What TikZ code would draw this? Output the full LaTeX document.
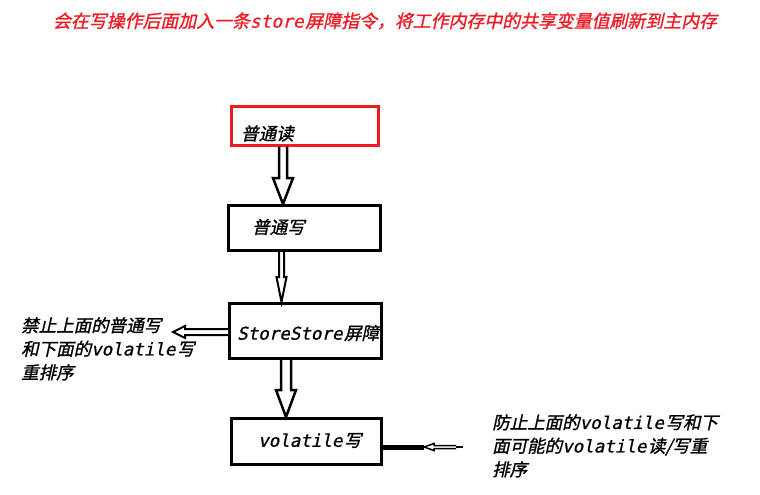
\documentclass[tikz,border=0pt]{standalone}
\usepackage{fontspec}
\newfontfamily\cjk[FakeSlant=0.22,FakeBold=1.2]{Noto Sans CJK SC}
\newfontfamily\latmono[FakeSlant=0.22,FakeBold=0.8]{DejaVu Sans Mono}
\newcommand\lat[1]{{\latmono #1}\kern1.5pt}
\usetikzlibrary{calc}
\definecolor{redline}{RGB}{237,28,36}
\newcommand\downblock[6]{% start, tip, shaft half, head half, head length, width
  \draw[line width=#6] let \p1=(#1), \p2=(#2) in
    (\x1-#3,\y1) -- (\x1-#3,\y2+#5) -- (\x1-#4,\y2+#5) -- (\x1,\y2)
    -- (\x1+#4,\y2+#5) -- (\x1+#3,\y2+#5) -- (\x1+#3,\y1);}
\newcommand\leftblock[6]{% start, tip, shaft half, head half, head length, width
  \draw[line width=#6,fill=white] let \p1=(#1), \p2=(#2) in
    (\x1,\y1+#3) -- (\x2+#5,\y1+#3) -- (\x2+#5,\y1+#4) -- (\x2,\y1)
    -- (\x2+#5,\y1-#4) -- (\x2+#5,\y1-#3) -- (\x1,\y1-#3);}
\begin{document}
\begin{tikzpicture}[x=1pt,y=-1pt,
  box/.style={draw, line width=3pt, inner sep=0pt},
  txt/.style={font=\cjk\fontsize{17.5}{23.5}\selectfont, inner sep=0pt, align=left},
  ttl/.style={font=\cjk\fontsize{17.9}{20}\selectfont, text=redline, inner sep=0pt}]
\useasboundingbox (0,0) rectangle (760,495);
\node[ttl] (title) at (385,21) {会在写操作后面加入一条\lat{store}屏障指令，将工作内存中的共享变量值刷新到主内存};
% boxes
\node[box, draw=redline, minimum width=147pt, minimum height=39pt] (r) at (305,125.5) {};
\node[box, minimum width=152pt, minimum height=45pt] (w) at (304.5,228) {};
\node[box, minimum width=152pt, minimum height=55pt] (ss) at (305.5,331) {};
\node[box, minimum width=150pt, minimum height=46pt] (vw) at (306.5,441.5) {};
% box texts
\node[txt, anchor=west] (rt) at ($(r.west)+(11,8)$) {普通读};
\node[txt, anchor=west] (wt) at ($(w.west)+(25,-1)$) {普通写};
\node[txt, anchor=west] (sst) at ($(ss.west)+(9,2)$) {\lat{StoreStore}屏障};
\node[txt, anchor=west] (vwt) at ($(vw.west)+(28,-1)$) {\lat{volatile}写};
% side labels
\node[txt, anchor=north west] (lt) at (21,317) {禁止上面的普通写\\和下面的\lat{volatile}写\\重排序};
\node[txt, anchor=north west] (rl) at (492,414) {防止上面的\lat{volatile}写和下\\面可能的\lat{volatile}读/写重\\排序};
% connectors
\coordinate (a1) at ($(r.south)+(-22,0)$);
\downblock{a1}{w.north}{4}{10}{26}{2.5pt}
\coordinate (a2) at ($(w.south)+(-23,0)$);
\downblock{a2}{ss.north}{2.5}{5}{25}{2pt}
\coordinate (a3) at ($(ss.south)+(-19.5,0)$);
\downblock{a3}{vw.north}{5}{10}{27}{2.5pt}
\coordinate (ltip) at (173,332);
\coordinate (lstart) at ($(ss.west)+(0,1)$);
\leftblock{lstart}{ltip}{3}{6}{12}{2pt}
\coordinate (rstart) at ($(vw.east)+(0,5.5)$);
\coordinate (rmid) at (424,447);
\coordinate (rend) at (456,447);
\coordinate (rfar) at (463,447);
\draw[line width=5pt] (rstart) -- (rmid);
\leftblock{rend}{rmid}{1.5}{3.5}{10}{1.5pt}
\draw[line width=2pt] (rend) -- (rfar);
\end{tikzpicture}
\end{document}
